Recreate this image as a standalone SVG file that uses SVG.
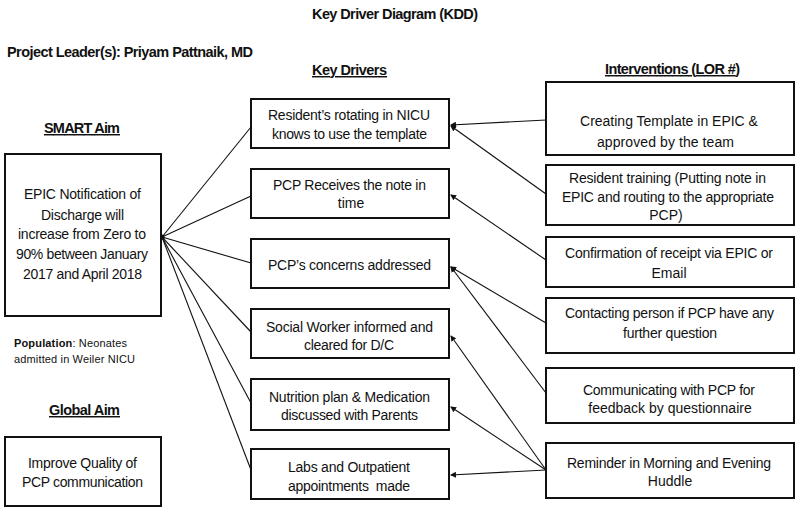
<svg xmlns="http://www.w3.org/2000/svg" width="800" height="512" viewBox="0 0 800 512">
<style>
text{font-family:"Liberation Sans",Arial,sans-serif;fill:#111;}
.h{font-weight:bold;font-size:14.5px;}
.u{text-decoration:underline;}
.t{font-size:14px;}
.m{text-anchor:middle;}
.p{font-size:11px;}
.box{fill:#fff;stroke:#111;stroke-width:2;}
.c{stroke:#111;stroke-width:1.1;fill:none;}
</style>
<defs>
<marker id="ah" markerUnits="userSpaceOnUse" markerWidth="6" markerHeight="6" refX="5" refY="3" orient="auto">
<path d="M0,0 L6,3 L0,6 z" fill="#111"/>
</marker>
</defs>
<rect width="800" height="512" fill="#fff"/>

<g id="headings">
<text class="h" x="312" y="19" textLength="166" lengthAdjust="spacing">Key Driver Diagram (KDD)</text>
<text class="h" x="7" y="57" textLength="246" lengthAdjust="spacing">Project Leader(s): Priyam Pattnaik, MD</text>
<text class="h u" x="312" y="75" textLength="75" lengthAdjust="spacing">Key Drivers</text>
<text class="h u" x="605" y="74" textLength="135" lengthAdjust="spacing">Interventions (LOR #)</text>
<text class="h u" x="44" y="133" textLength="76" lengthAdjust="spacing">SMART Aim</text>
<text class="h u" x="49" y="415" textLength="71" lengthAdjust="spacing">Global Aim</text>
</g>

<g id="population">
<text class="p" x="14" y="347" textLength="113" lengthAdjust="spacing"><tspan font-weight="bold">Population</tspan>: Neonates</text>
<text class="p" x="14" y="363" textLength="121" lengthAdjust="spacing">admitted in Weiler NICU</text>
</g>

<g id="connectors">
<circle cx="162" cy="237" r="2.6" fill="#111"/>
<line class="c" x1="162" y1="237" x2="251" y2="127"/>
<line class="c" x1="162" y1="237" x2="251" y2="196"/>
<line class="c" x1="162" y1="237" x2="251" y2="263"/>
<line class="c" x1="162" y1="237" x2="251" y2="332"/>
<line class="c" x1="162" y1="237" x2="251" y2="403"/>
<line class="c" x1="162" y1="237" x2="251" y2="470"/>
<line class="c" x1="546" y1="120" x2="451" y2="125" marker-end="url(#ah)"/>
<line class="c" x1="546" y1="194" x2="451" y2="126" marker-end="url(#ah)"/>
<line class="c" x1="546" y1="260" x2="451" y2="195" marker-end="url(#ah)"/>
<line class="c" x1="546" y1="323" x2="451" y2="267" marker-end="url(#ah)"/>
<line class="c" x1="546" y1="393" x2="451" y2="267" marker-end="url(#ah)"/>
<line class="c" x1="546" y1="470" x2="451" y2="336" marker-end="url(#ah)"/>
<line class="c" x1="546" y1="470" x2="451" y2="407" marker-end="url(#ah)"/>
<line class="c" x1="546" y1="470" x2="451" y2="475" marker-end="url(#ah)"/>
</g>

<g id="smart-aim">
<rect class="box" x="5" y="154" width="156" height="162"/>
<text class="t" x="24" y="199" textLength="117" lengthAdjust="spacing">EPIC Notification of</text>
<text class="t" x="41" y="220" textLength="83" lengthAdjust="spacing">Discharge will</text>
<text class="t" x="18" y="239" textLength="128" lengthAdjust="spacing">increase from Zero to</text>
<text class="t" x="16" y="259" textLength="132" lengthAdjust="spacing">90% between January</text>
<text class="t" x="23" y="279" textLength="119" lengthAdjust="spacing">2017 and April 2018</text>
</g>

<g id="global-aim">
<rect class="box" x="5" y="437" width="156" height="69"/>
<text class="t" x="28" y="468" textLength="109" lengthAdjust="spacing">Improve Quality of</text>
<text class="t" x="22" y="487" textLength="121" lengthAdjust="spacing">PCP communication</text>
</g>

<g id="kd1">
<rect class="box" x="251" y="99" width="198" height="49"/>
<text class="t" x="268" y="120" textLength="162" lengthAdjust="spacing">Resident’s rotating in NICU</text>
<text class="t" x="272" y="139" textLength="155" lengthAdjust="spacing">knows to use the template</text>
</g>
<g id="kd2">
<rect class="box" x="251" y="169" width="198" height="49"/>
<text class="t" x="273" y="190" textLength="153" lengthAdjust="spacing">PCP Receives the note in</text>
<text class="t m" x="351" y="208">time</text>
</g>
<g id="kd3">
<rect class="box" x="251" y="239" width="198" height="49"/>
<text class="t" x="268" y="270" textLength="163" lengthAdjust="spacing">PCP’s concerns addressed</text>
</g>
<g id="kd4">
<rect class="box" x="251" y="309" width="198" height="49"/>
<text class="t" x="266" y="332" textLength="167" lengthAdjust="spacing">Social Worker informed and</text>
<text class="t" x="304" y="350" textLength="90" lengthAdjust="spacing">cleared for D/C</text>
</g>
<g id="kd5">
<rect class="box" x="251" y="379" width="198" height="51"/>
<text class="t" x="269" y="402" textLength="161" lengthAdjust="spacing">Nutrition plan &amp; Medication</text>
<text class="t" x="281" y="420" textLength="137" lengthAdjust="spacing">discussed with Parents</text>
</g>
<g id="kd6">
<rect class="box" x="251" y="449" width="198" height="50"/>
<text class="t" x="288" y="472" textLength="122" lengthAdjust="spacing">Labs and Outpatient</text>
<text class="t" x="288" y="491" textLength="122" lengthAdjust="spacing" xml:space="preserve">appointments  made</text>
</g>

<g id="int1">
<rect class="box" x="546" y="82" width="248" height="73"/>
<text class="t m" x="669" y="126">Creating Template in EPIC &amp;</text>
<text class="t" x="597" y="147" textLength="137" lengthAdjust="spacing">approved by the team</text>
</g>
<g id="int2">
<rect class="box" x="546" y="165" width="248" height="60"/>
<text class="t" x="569" y="183" textLength="197" lengthAdjust="spacing">Resident training (Putting note in</text>
<text class="t" x="562" y="202" textLength="212" lengthAdjust="spacing">EPIC and routing to the appropriate</text>
<text class="t m" x="666" y="220">PCP)</text>
</g>
<g id="int3">
<rect class="box" x="546" y="237" width="248" height="50"/>
<text class="t" x="565" y="258" textLength="208" lengthAdjust="spacing">Confirmation of receipt via EPIC or</text>
<text class="t m" x="669" y="278">Email</text>
</g>
<g id="int4">
<rect class="box" x="546" y="298" width="248" height="55"/>
<text class="t" x="565" y="318" textLength="209" lengthAdjust="spacing">Contacting person if PCP have any</text>
<text class="t" x="623" y="338" textLength="94" lengthAdjust="spacing">further question</text>
</g>
<g id="int5">
<rect class="box" x="546" y="368" width="248" height="55"/>
<text class="t" x="583" y="395" textLength="172" lengthAdjust="spacing">Communicating with PCP for</text>
<text class="t m" x="670" y="413">feedback by questionnaire</text>
</g>
<g id="int6">
<rect class="box" x="546" y="443" width="248" height="55"/>
<text class="t" x="567" y="468" textLength="204" lengthAdjust="spacing">Reminder in Morning and Evening</text>
<text class="t m" x="670" y="486">Huddle</text>
</g>
</svg>
